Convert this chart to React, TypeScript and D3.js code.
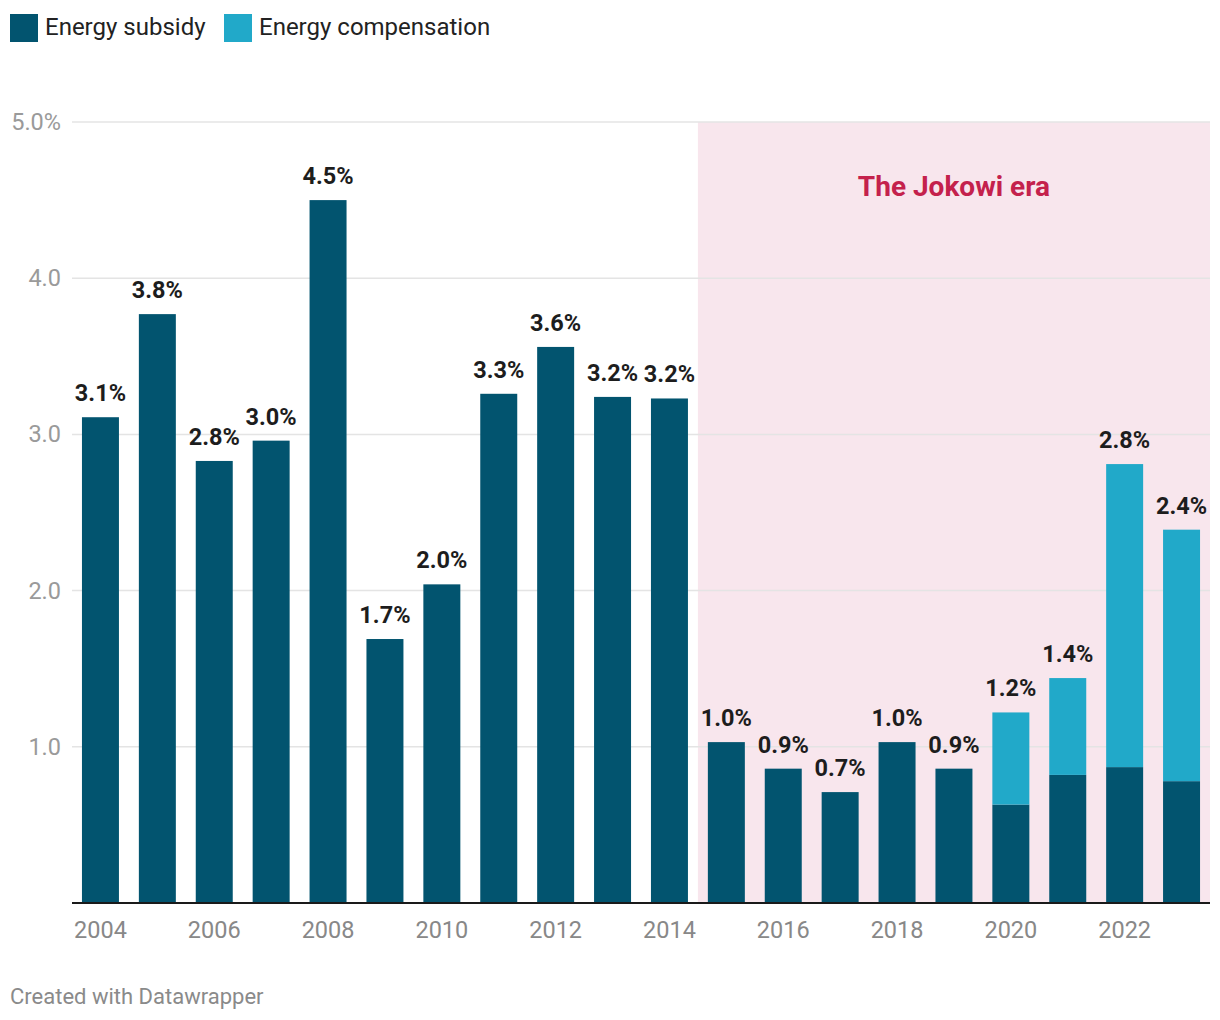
import React from "react";
import * as d3 from "d3";

const years = [2004, 2005, 2006, 2007, 2008, 2009, 2010, 2011, 2012, 2013, 2014, 2015, 2016, 2017, 2018, 2019, 2020, 2021, 2022, 2023];
const subsidy = [3.11, 3.77, 2.83, 2.96, 4.5, 1.69, 2.04, 3.26, 3.56, 3.24, 3.23, 1.03, 0.86, 0.71, 1.03, 0.86, 0.63, 0.82, 0.87, 0.78];
const compensation = [0, 0, 0, 0, 0, 0, 0, 0, 0, 0, 0, 0, 0, 0, 0, 0, 0.59, 0.62, 1.94, 1.61];
const yTicks = [1, 2, 3, 4, 5];
const xTickYears = [2004, 2006, 2008, 2010, 2012, 2014, 2016, 2018, 2020, 2022];
const seriesNames = ["Energy subsidy", "Energy compensation"];
const eraStart = 2015;
const eraLabel = "The Jokowi era";
const credit = "Created with Datawrapper";

const C_DARK = "#02546f";
const C_LIGHT = "#21a9c9";
const FONT = "Roboto, 'Noto Sans', sans-serif";

export default function App() {
  const W = 1220, H = 1020;
  const left = 72, right = 1210, top = 122, bottom = 903;
  const x = d3.scaleBand<number>().domain(years).range([left, right]).paddingInner(0.35).paddingOuter(0.175);
  const y = d3.scaleLinear().domain([0, 5]).range([bottom, top]);
  const fmt = d3.format(".1f");
  const step = x.step();
  const eraX0 = (x(eraStart) as number) - (step - x.bandwidth()) / 2;

  return (
    <svg width={W} height={H} style={{ position: "absolute", left: 0, top: 0, fontFamily: FONT }}>
      <rect x={0} y={0} width={W} height={H} fill="#fff" />
      {/* legend */}
      <g>
        <rect x={10} y={14} width={28} height={28} fill={C_DARK} />
        <text x={45} y={35} fontSize={24} fill="#222">{seriesNames[0]}</text>
        <rect x={224} y={14} width={28} height={28} fill={C_LIGHT} />
        <text x={259} y={35} fontSize={24} fill="#222">{seriesNames[1]}</text>
      </g>
      {/* era shading */}
      <rect x={eraX0} y={y(5)} width={right - eraX0} height={bottom - y(5)} fill="#f8e6ed" />
      {/* gridlines */}
      {yTicks.map((t) => (
        <g key={t}>
          <line x1={left} x2={right} y1={y(t)} y2={y(t)} stroke="#e4e4e4" strokeWidth={1.5} />
          <text x={61} y={y(t) + 8} fontSize={23.5} fill="#9a9a9a" textAnchor="end">
            {fmt(t) + (t === 5 ? "%" : "")}
          </text>
        </g>
      ))}
      <text x={(eraX0 + right) / 2} y={196} fontSize={28} fontWeight={700} fill="#c4214c" textAnchor="middle">
        {eraLabel}
      </text>
      {/* bars */}
      {years.map((yr, i) => {
        const bx = x(yr) as number;
        const bw = x.bandwidth();
        const s = subsidy[i];
        const c = compensation[i];
        const total = s + c;
        return (
          <g key={yr}>
            <rect x={bx} y={y(s)} width={bw} height={y(0) - y(s)} fill={C_DARK} />
            {c > 0 && <rect x={bx} y={y(total)} width={bw} height={y(s) - y(total)} fill={C_LIGHT} />}
            <text x={bx + bw / 2} y={y(total) - 16} fontSize={23.5} fontWeight={700} fill="#1d1d1d" textAnchor="middle">
              {fmt(total) + "%"}
            </text>
          </g>
        );
      })}
      {/* baseline */}
      <line x1={left} x2={right} y1={bottom} y2={bottom} stroke="#1a1a1a" strokeWidth={2} />
      {/* x ticks */}
      {xTickYears.map((yr) => (
        <text key={yr} x={(x(yr) as number) + x.bandwidth() / 2} y={938} fontSize={23.5} fill="#888" textAnchor="middle">
          {yr}
        </text>
      ))}
      <text x={10} y={1004} fontSize={22} fill="#8a8a8a">{credit}</text>
    </svg>
  );
}
